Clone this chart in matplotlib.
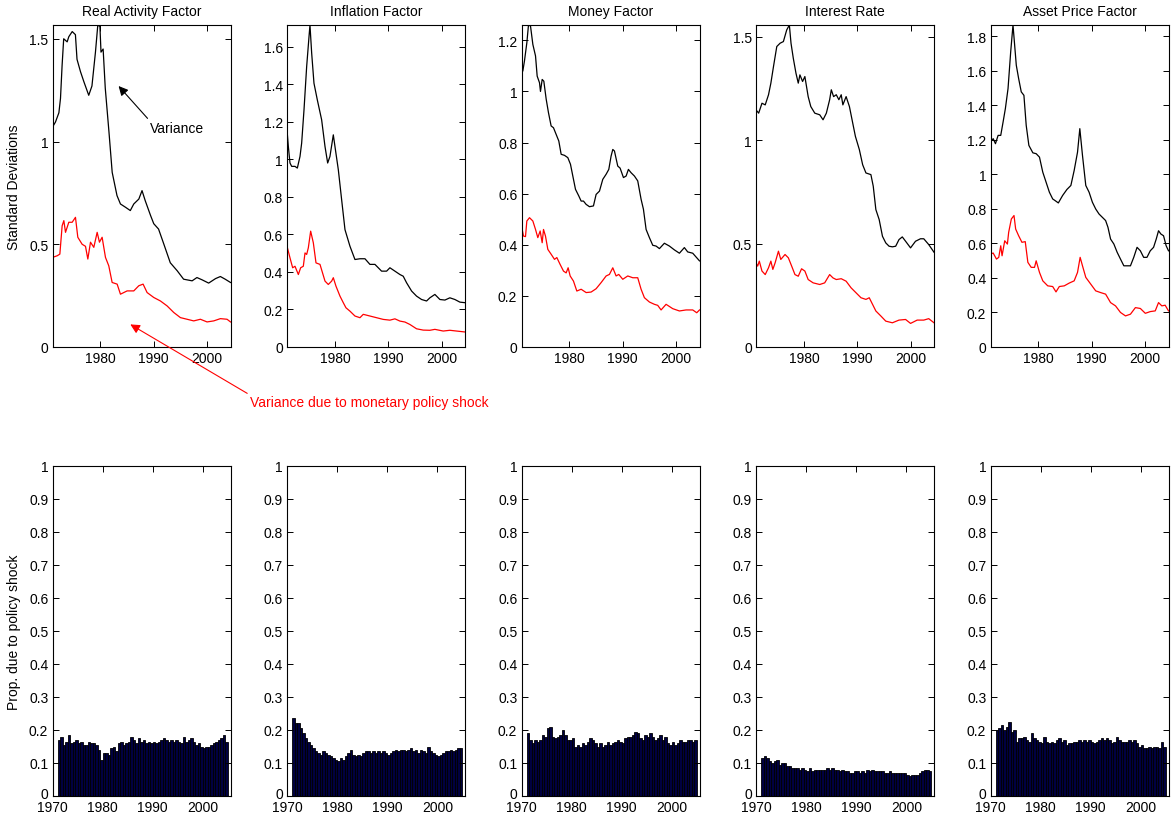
import numpy as np
import matplotlib
matplotlib.use('Agg')
import matplotlib.pyplot as plt
import matplotlib.transforms as mtransforms
from matplotlib.ticker import FuncFormatter

plt.rcParams['font.family'] = ['Liberation Sans', 'DejaVu Sans']
plt.rcParams['font.size'] = 10

titles = ['Real Activity Factor', 'Inflation Factor', 'Money Factor',
          'Interest Rate', 'Asset Price Factor']
top_steps = [0.5, 0.2, 0.2, 0.5, 0.2]

# (year, std dev): total variance (black) and policy part (red)
ra_total = [(1971.0, 1.07), (1971.56, 1.095), (1972.2, 1.14), (1972.5, 1.21), (1972.8, 1.37),
            (1973.1, 1.50), (1973.75, 1.485), (1974.06, 1.51), (1974.7, 1.535), (1975.3, 1.52),
            (1975.6, 1.40), (1976.25, 1.34), (1976.9, 1.29), (1977.8, 1.225), (1978.4, 1.27),
            (1979.06, 1.435), (1979.5, 1.567), (1979.9, 1.56), (1980.1, 1.435), (1980.5, 1.45),
            (1980.9, 1.26), (1981.6, 1.045), (1982.2, 0.85), (1983.1, 0.737), (1983.75, 0.696),
            (1984.7, 0.68), (1985.6, 0.664), (1986.25, 0.696), (1987.2, 0.72), (1987.8, 0.761),
            (1988.4, 0.712), (1989.4, 0.64), (1990.0, 0.60), (1990.9, 0.574), (1991.9, 0.50),
            (1993.1, 0.41), (1994.4, 0.371), (1995.6, 0.33), (1997.2, 0.322), (1998.1, 0.338),
            (1999.06, 0.327), (2000.3, 0.311), (2001.6, 0.333), (2002.5, 0.343), (2003.4, 0.33),
            (2004.4, 0.314)]
ra_policy = [(1971.0, 0.436), (1971.88, 0.444), (1972.38, 0.452), (1972.81, 0.59), (1973.13, 0.615),
             (1973.44, 0.558), (1974.06, 0.607), (1974.69, 0.607), (1975.31, 0.631), (1975.75, 0.534),
             (1976.56, 0.50), (1977.19, 0.49), (1977.63, 0.428), (1978.13, 0.51), (1978.75, 0.485),
             (1979.38, 0.558), (1979.81, 0.51), (1980.31, 0.534), (1980.94, 0.436), (1981.56, 0.395),
             (1982.19, 0.314), (1983.13, 0.306), (1983.75, 0.257), (1985.0, 0.273), (1986.25, 0.273),
             (1987.19, 0.298), (1988.0, 0.306), (1988.75, 0.265), (1990.0, 0.241), (1991.25, 0.224),
             (1992.5, 0.20), (1993.75, 0.168), (1995.0, 0.143), (1996.25, 0.135), (1997.5, 0.127),
             (1998.75, 0.135), (2000.0, 0.122), (2001.25, 0.127), (2002.5, 0.138), (2003.75, 0.135),
             (2004.4, 0.122)]

inf_total = [(1971.0, 1.157), (1971.25, 1.068), (1971.56, 0.98), (1971.88, 0.962), (1972.5, 0.962),
             (1972.94, 0.953), (1973.44, 1.015), (1973.75, 1.086), (1974.19, 1.263), (1974.69, 1.494),
             (1975.13, 1.653), (1975.31, 1.715), (1975.63, 1.565), (1976.06, 1.405), (1976.69, 1.316),
             (1977.5, 1.21), (1978.13, 1.068), (1978.63, 0.98), (1979.06, 1.015), (1979.69, 1.13),
             (1980.0, 1.068), (1980.63, 0.944), (1981.25, 0.785), (1981.88, 0.625), (1982.81, 0.537),
             (1983.75, 0.466), (1984.69, 0.47), (1985.63, 0.47), (1986.56, 0.44), (1987.5, 0.44),
             (1988.75, 0.404), (1989.69, 0.404), (1990.31, 0.422), (1991.25, 0.404), (1992.19, 0.386),
             (1992.81, 0.377), (1993.44, 0.342), (1994.38, 0.298), (1995.31, 0.271), (1996.25, 0.253),
             (1997.19, 0.245), (1997.81, 0.262), (1998.75, 0.28), (1999.69, 0.253), (2000.63, 0.25),
             (2001.56, 0.262), (2002.5, 0.253), (2003.44, 0.239), (2004.4, 0.236)]
inf_policy = [(1971.0, 0.537), (1971.56, 0.475), (1972.06, 0.422), (1972.5, 0.43), (1973.13, 0.386),
              (1973.56, 0.422), (1974.06, 0.43), (1974.38, 0.501), (1974.69, 0.493), (1975.0, 0.528),
              (1975.44, 0.617), (1975.94, 0.555), (1976.44, 0.448), (1977.19, 0.44), (1978.13, 0.351),
              (1978.75, 0.333), (1979.38, 0.351), (1979.69, 0.369), (1980.19, 0.324), (1980.94, 0.271),
              (1981.56, 0.236), (1982.06, 0.209), (1982.81, 0.191), (1983.75, 0.165), (1984.69, 0.156),
              (1985.31, 0.174), (1986.56, 0.165), (1987.81, 0.156), (1989.06, 0.147), (1990.31, 0.143),
              (1991.25, 0.15), (1992.19, 0.138), (1993.13, 0.133), (1994.06, 0.12), (1995.31, 0.097),
              (1996.56, 0.09), (1997.81, 0.089), (1998.75, 0.094), (2000.31, 0.085), (2001.56, 0.089),
              (2002.81, 0.085), (2004.4, 0.08)]

mon_total = [(1971.0, 1.074), (1971.25, 1.08), (1971.56, 1.12), (1972.0, 1.19), (1972.31, 1.26),
             (1972.69, 1.256), (1973.13, 1.184), (1973.63, 1.139), (1973.94, 1.06), (1974.38, 1.034),
             (1974.56, 1.0), (1974.88, 1.047), (1975.19, 1.04), (1975.63, 0.97), (1976.06, 0.917),
             (1976.56, 0.865), (1977.0, 0.858), (1977.5, 0.832), (1978.0, 0.806), (1978.44, 0.754),
             (1979.06, 0.75), (1979.69, 0.741), (1980.19, 0.715), (1980.63, 0.669), (1981.13, 0.617),
             (1981.75, 0.591), (1982.19, 0.571), (1982.63, 0.571), (1983.13, 0.558), (1983.75, 0.549),
             (1984.5, 0.552), (1985.0, 0.597), (1985.63, 0.61), (1986.25, 0.656), (1986.88, 0.676),
             (1987.38, 0.695), (1987.81, 0.747), (1988.13, 0.773), (1988.44, 0.767), (1989.06, 0.708),
             (1989.5, 0.70), (1990.13, 0.663), (1990.63, 0.669), (1991.06, 0.695), (1991.56, 0.682),
             (1992.19, 0.669), (1992.81, 0.65), (1993.44, 0.578), (1993.88, 0.539), (1994.38, 0.46),
             (1995.0, 0.428), (1995.63, 0.398), (1996.25, 0.395), (1996.88, 0.385), (1997.81, 0.406),
             (1998.75, 0.395), (1999.69, 0.38), (2000.63, 0.367), (2001.56, 0.389), (2002.19, 0.372),
             (2003.13, 0.367), (2004.4, 0.337)]
mon_policy = [(1971.0, 0.473), (1971.38, 0.434), (1971.75, 0.432), (1972.0, 0.493), (1972.5, 0.506),
              (1973.13, 0.493), (1973.63, 0.46), (1974.06, 0.428), (1974.5, 0.454), (1974.88, 0.408),
              (1975.13, 0.46), (1975.5, 0.434), (1975.94, 0.382), (1976.56, 0.363), (1977.19, 0.343),
              (1977.63, 0.35), (1978.25, 0.323), (1978.88, 0.297), (1979.38, 0.29), (1979.75, 0.31),
              (1980.13, 0.278), (1980.75, 0.258), (1981.38, 0.219), (1982.19, 0.226), (1983.13, 0.213),
              (1984.06, 0.215), (1985.0, 0.228), (1985.94, 0.252), (1986.88, 0.278), (1987.5, 0.284),
              (1988.13, 0.31), (1988.75, 0.278), (1989.25, 0.284), (1990.0, 0.265), (1990.94, 0.278),
              (1991.88, 0.271), (1992.81, 0.271), (1993.44, 0.226), (1994.06, 0.193), (1995.0, 0.176),
              (1995.94, 0.167), (1996.56, 0.163), (1997.19, 0.145), (1998.13, 0.167), (1999.38, 0.15),
              (2000.63, 0.141), (2001.88, 0.145), (2003.13, 0.145), (2003.88, 0.134), (2004.4, 0.145)]

ir_total = [(1971.0, 1.146), (1971.5, 1.13), (1972.12, 1.178), (1972.73, 1.17), (1973.35, 1.219),
            (1973.79, 1.275), (1974.28, 1.355), (1974.9, 1.452), (1975.52, 1.468), (1976.14, 1.476),
            (1976.76, 1.532), (1977.26, 1.556), (1977.57, 1.468), (1978.0, 1.395), (1978.5, 1.323),
            (1978.93, 1.275), (1979.24, 1.315), (1979.74, 1.283), (1980.17, 1.307), (1980.79, 1.21),
            (1981.28, 1.162), (1982.03, 1.13), (1982.96, 1.122), (1983.58, 1.098), (1984.2, 1.13),
            (1984.82, 1.195), (1985.13, 1.243), (1985.56, 1.21), (1986.06, 1.219), (1986.55, 1.195),
            (1986.99, 1.219), (1987.3, 1.17), (1987.91, 1.21), (1988.53, 1.162), (1989.15, 1.082),
            (1989.65, 1.018), (1990.39, 0.954), (1991.01, 0.881), (1991.63, 0.841), (1992.56, 0.833),
            (1993.0, 0.777), (1993.49, 0.664), (1994.11, 0.616), (1994.73, 0.535), (1995.35, 0.503),
            (1995.97, 0.487), (1996.59, 0.484), (1997.21, 0.487), (1997.83, 0.519), (1998.45, 0.532),
            (1999.07, 0.511), (2000.0, 0.479), (2000.93, 0.511), (2001.86, 0.523), (2002.48, 0.523),
            (2003.41, 0.495), (2004.4, 0.458)]
ir_policy = [(1971.0, 0.407), (1971.31, 0.391), (1971.62, 0.415), (1972.12, 0.367), (1972.73, 0.35),
             (1973.35, 0.383), (1973.79, 0.415), (1974.16, 0.375), (1974.59, 0.407), (1975.21, 0.463),
             (1975.65, 0.423), (1976.45, 0.447), (1977.07, 0.431), (1977.69, 0.391), (1978.31, 0.35),
             (1978.93, 0.342), (1979.55, 0.378), (1980.17, 0.367), (1980.79, 0.326), (1981.72, 0.31),
             (1982.96, 0.302), (1983.89, 0.31), (1984.82, 0.35), (1985.44, 0.334), (1986.06, 0.326),
             (1986.99, 0.33), (1987.91, 0.318), (1988.84, 0.286), (1989.77, 0.262), (1990.7, 0.238),
             (1991.63, 0.23), (1992.25, 0.238), (1992.87, 0.206), (1993.49, 0.174), (1994.42, 0.15),
             (1995.35, 0.125), (1996.59, 0.117), (1997.83, 0.13), (1999.07, 0.133), (2000.0, 0.114),
             (2001.24, 0.13), (2002.48, 0.13), (2003.41, 0.137), (2004.4, 0.117)]

ap_total = [(1971.0, 1.186), (1971.5, 1.206), (1971.93, 1.177), (1972.43, 1.225), (1972.92, 1.225),
            (1973.36, 1.302), (1973.79, 1.38), (1974.29, 1.496), (1974.79, 1.709), (1975.22, 1.864),
            (1975.53, 1.748), (1975.84, 1.631), (1976.28, 1.554), (1976.77, 1.477), (1977.27, 1.457),
            (1977.7, 1.283), (1978.2, 1.167), (1978.95, 1.124), (1979.57, 1.119), (1980.19, 1.099),
            (1980.81, 1.012), (1981.43, 0.954), (1982.05, 0.896), (1982.67, 0.857), (1983.1, 0.848),
            (1983.73, 0.834), (1984.53, 0.877), (1985.34, 0.912), (1986.08, 0.935), (1986.7, 1.022),
            (1987.33, 1.128), (1987.76, 1.264), (1988.26, 1.109), (1988.88, 0.935), (1989.5, 0.896),
            (1990.12, 0.838), (1990.74, 0.799), (1991.36, 0.77), (1991.98, 0.751), (1992.6, 0.732),
            (1993.04, 0.693), (1993.53, 0.625), (1994.15, 0.596), (1994.77, 0.548), (1995.39, 0.509),
            (1996.02, 0.47), (1996.64, 0.47), (1997.26, 0.47), (1997.88, 0.519), (1998.5, 0.577),
            (1999.12, 0.557), (1999.74, 0.519), (2000.36, 0.519), (2000.98, 0.557), (2001.6, 0.577),
            (2002.1, 0.625), (2002.53, 0.673), (2002.97, 0.654), (2003.47, 0.644), (2003.96, 0.586),
            (2004.4, 0.557)]
ap_policy = [(1971.0, 0.538), (1971.5, 0.544), (1972.12, 0.509), (1972.55, 0.519), (1972.92, 0.586),
             (1973.17, 0.528), (1973.67, 0.615), (1974.17, 0.596), (1974.41, 0.664), (1974.91, 0.741),
             (1975.41, 0.761), (1975.72, 0.683), (1976.28, 0.644), (1976.9, 0.606), (1977.52, 0.61),
             (1978.01, 0.49), (1978.64, 0.461), (1979.26, 0.461), (1979.57, 0.499), (1980.19, 0.432),
             (1980.81, 0.383), (1981.74, 0.354), (1982.67, 0.35), (1983.29, 0.319), (1983.91, 0.35),
             (1984.84, 0.354), (1985.77, 0.37), (1986.7, 0.383), (1987.33, 0.432), (1987.82, 0.519),
             (1988.26, 0.47), (1988.88, 0.403), (1989.81, 0.364), (1990.74, 0.325), (1991.67, 0.315),
             (1992.6, 0.306), (1993.53, 0.257), (1994.46, 0.238), (1995.39, 0.2), (1996.33, 0.18),
             (1997.26, 0.19), (1998.19, 0.228), (1999.12, 0.223), (2000.05, 0.195), (2000.98, 0.205),
             (2001.91, 0.209), (2002.53, 0.257), (2003.15, 0.238), (2003.77, 0.242), (2004.4, 0.209)]

# proportion due to policy shock, half-yearly from 1971H1 to 2004H2
ra_prop = [0.17, 0.178, 0.155, 0.165, 0.185, 0.16, 0.165, 0.17, 0.16, 0.165, 0.155, 0.155,
           0.165, 0.16, 0.16, 0.155, 0.14, 0.11, 0.13, 0.13, 0.125, 0.145, 0.15, 0.135,
           0.16, 0.165, 0.155, 0.16, 0.165, 0.18, 0.17, 0.16, 0.175, 0.165, 0.17, 0.16,
           0.165, 0.16, 0.165, 0.16, 0.165, 0.17, 0.175, 0.17, 0.165, 0.17, 0.165, 0.17,
           0.165, 0.16, 0.18, 0.165, 0.17, 0.175, 0.165, 0.155, 0.16, 0.15, 0.145, 0.15,
           0.15, 0.155, 0.16, 0.165, 0.17, 0.175, 0.185, 0.165]
inf_prop = [0.235, 0.22, 0.22, 0.205, 0.19, 0.175, 0.165, 0.155, 0.145, 0.135, 0.13, 0.125,
            0.135, 0.13, 0.125, 0.12, 0.115, 0.11, 0.105, 0.115, 0.11, 0.12, 0.13, 0.14,
            0.125, 0.12, 0.125, 0.12, 0.13, 0.135, 0.135, 0.13, 0.135, 0.13, 0.135, 0.13,
            0.135, 0.13, 0.125, 0.13, 0.135, 0.14, 0.135, 0.14, 0.14, 0.135, 0.14, 0.145,
            0.135, 0.14, 0.13, 0.14, 0.135, 0.13, 0.15, 0.135, 0.13, 0.125, 0.12, 0.125,
            0.13, 0.135, 0.135, 0.14, 0.135, 0.14, 0.145, 0.145]
mon_prop = [0.19, 0.17, 0.16, 0.17, 0.165, 0.17, 0.185, 0.18, 0.205, 0.21, 0.18, 0.175,
            0.18, 0.185, 0.2, 0.185, 0.17, 0.17, 0.175, 0.15, 0.155, 0.15, 0.16, 0.155,
            0.165, 0.175, 0.17, 0.16, 0.15, 0.16, 0.15, 0.155, 0.165, 0.155, 0.16, 0.165,
            0.17, 0.165, 0.16, 0.175, 0.18, 0.18, 0.185, 0.195, 0.19, 0.175, 0.17, 0.185,
            0.18, 0.19, 0.18, 0.17, 0.175, 0.185, 0.17, 0.18, 0.16, 0.155, 0.165, 0.155,
            0.16, 0.17, 0.165, 0.165, 0.17, 0.17, 0.165, 0.17]
ir_prop = [0.115, 0.12, 0.115, 0.105, 0.1, 0.105, 0.11, 0.095, 0.1, 0.1, 0.09, 0.09,
           0.085, 0.085, 0.085, 0.08, 0.085, 0.08, 0.075, 0.085, 0.075, 0.08, 0.08, 0.08,
           0.08, 0.08, 0.085, 0.08, 0.085, 0.08, 0.08, 0.075, 0.08, 0.075, 0.075, 0.07,
           0.07, 0.075, 0.075, 0.07, 0.075, 0.07, 0.08, 0.075, 0.08, 0.075, 0.075, 0.075,
           0.075, 0.07, 0.07, 0.075, 0.07, 0.07, 0.07, 0.07, 0.07, 0.07, 0.065, 0.06,
           0.065, 0.065, 0.065, 0.07, 0.075, 0.08, 0.08, 0.075]
ap_prop = [0.2, 0.205, 0.215, 0.2, 0.21, 0.225, 0.195, 0.2, 0.165, 0.175, 0.175, 0.18,
           0.17, 0.165, 0.19, 0.175, 0.17, 0.165, 0.16, 0.18, 0.165, 0.16, 0.165, 0.16,
           0.17, 0.175, 0.165, 0.17, 0.155, 0.16, 0.16, 0.165, 0.165, 0.17, 0.165, 0.17,
           0.165, 0.17, 0.165, 0.16, 0.165, 0.17, 0.175, 0.17, 0.175, 0.17, 0.16, 0.165,
           0.18, 0.17, 0.165, 0.165, 0.165, 0.17, 0.165, 0.17, 0.16, 0.15, 0.155, 0.145,
           0.145, 0.15, 0.145, 0.15, 0.15, 0.145, 0.165, 0.15]

totals = [ra_total, inf_total, mon_total, ir_total, ap_total]
policies = [ra_policy, inf_policy, mon_policy, ir_policy, ap_policy]
props = [ra_prop, inf_prop, mon_prop, ir_prop, ap_prop]
half_years = np.arange(1971, 2005, 0.5)

W, H = 1176, 820
fig = plt.figure(figsize=(W / 100, H / 100), dpi=100)
lefts = [52.5, 287, 521.5, 756, 990.5]
aw = 178


def px_axes(left, top, bottom):
    return fig.add_axes([left / W, 1 - bottom / H, aw / W, (bottom - top) / H])


def style(ax):
    ax.tick_params(direction='in', top=True, right=True, length=4, width=0.7,
                   labelsize=10, pad=3)
    for s in ax.spines.values():
        s.set_linewidth(0.8)
    ax.yaxis.set_major_formatter(FuncFormatter(lambda v, p: '%g' % round(v, 2)))


top_axes = []
for i in range(5):
    ax = px_axes(lefts[i], 26, 348)
    t = np.array(totals[i])
    p = np.array(policies[i])
    ax.plot(t[:, 0], t[:, 1], color='black', lw=0.9)
    ax.plot(p[:, 0], p[:, 1], color='red', lw=0.9)
    ymax = t[:, 1].max()
    ax.set_xlim(1971, 2004.4)
    ax.set_ylim(0, ymax)
    ax.set_xticks([1980, 1990, 2000])
    ax.set_yticks(np.arange(0, ymax + 1e-9, top_steps[i]))
    ax.set_title(titles[i], fontsize=10, pad=7)
    style(ax)
    top_axes.append(ax)

top_axes[0].set_ylabel('Standard Deviations', fontsize=10, labelpad=6)

# nudge the bottom "0" label up a little so it clears the "1970" below it
lift = mtransforms.ScaledTranslation(0, 3 / 100, fig.dpi_scale_trans)

for i in range(5):
    ax = px_axes(lefts[i], 467, 797)
    ax.bar(half_years + 0.25, props[i], width=0.5, color='#000040',
           edgecolor='black', linewidth=0.6)
    ax.set_xlim(1970, 2005.5)
    ax.set_ylim(0, 1)
    ax.set_xticks([1970, 1980, 1990, 2000])
    ax.set_yticks(np.arange(0, 1.01, 0.1))
    style(ax)
    ax.tick_params(axis='x', pad=3)
    zero = ax.get_yticklabels()[0]
    zero.set_transform(zero.get_transform() + lift)
    if i == 0:
        ax.set_ylabel('Prop. due to policy shock', fontsize=10, labelpad=6)

ax0 = top_axes[0]
ax0.annotate('Variance', xy=(1983.4, 1.27), xytext=(1989.3, 1.065),
             ha='left', va='center', fontsize=10,
             arrowprops=dict(arrowstyle='-|>', color='black', lw=0.8,
                             mutation_scale=14, shrinkA=0, shrinkB=0,
                             relpos=(0, 1)))
ax0.annotate('Variance due to monetary policy shock', xy=(1985.6, 0.11),
             xytext=(250 / W, 1 - 403 / H), textcoords='figure fraction',
             ha='left', va='center', fontsize=10, color='red',
             annotation_clip=False,
             arrowprops=dict(arrowstyle='-|>', color='red', lw=0.8,
                             mutation_scale=14, shrinkA=0, shrinkB=0,
                             relpos=(0, 1)))

fig.savefig('out.png', dpi=100)
